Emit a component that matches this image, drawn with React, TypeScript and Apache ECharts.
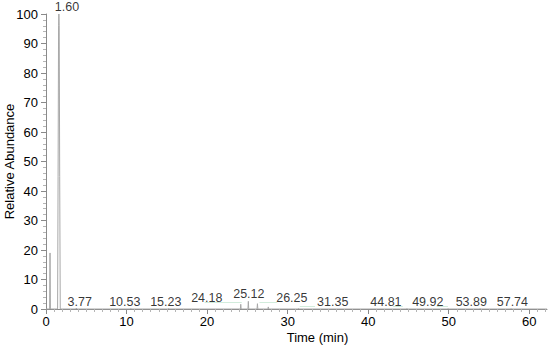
import React, { useEffect, useRef } from "react";
import * as echarts from "echarts";

// Chromatogram trace (time in min, relative abundance %)
const traceTime = [0, 0.45, 0.5, 0.55, 1.44, 1.5, 1.56, 1.6, 1.64, 1.7, 1.77, 3.72, 3.77, 3.82, 10.48, 10.53, 10.58, 15.18, 15.23, 15.28, 24.13, 24.18, 24.23, 25.07, 25.12, 25.17, 26.2, 26.25, 26.3, 27.55, 27.6, 27.65, 31.3, 31.35, 31.4, 44.76, 44.81, 44.86, 49.87, 49.92, 49.97, 53.84, 53.89, 53.94, 57.69, 57.74, 57.79, 62.2];
const traceAbundance = [0, 0, 19, 0, 0, 45, 96, 100, 96, 45, 0, 0, 0.3, 0, 0, 0.2, 0, 0, 0.2, 0, 0, 1.6, 0, 0, 2.6, 0, 0, 1.8, 0, 0, 0.7, 0, 0, 0.2, 0, 0, 0.2, 0, 0, 0.2, 0, 0, 0.2, 0, 0, 0.2, 0, 0];

// Peak annotations: text, where the label sits (min), and its height (%)
const peakLabels = ["1.60", "3.77", "10.53", "15.23", "24.18", "25.12", "26.25", "31.35", "44.81", "49.92", "53.89", "57.74"];
const labelTime = [2.6, 4.19, 9.78, 14.87, 19.96, 25.18, 30.52, 35.6, 42.2, 47.4, 52.8, 57.9];
const labelHeight = [100, 0, 0, 0, 1.1, 2.4, 1.1, 0, 0, 0, 0, 0];

// Faint baseline connector segments [t1, t2, abundance]
const baselineSegments = [
  [19.7, 24.3, 2.2],
  [26.5, 28.7, 2.4],
  [31.5, 33.4, 1.1],
  [43.1, 44.3, 0.8],
  [48.5, 49.9, 0.8],
];

const xTicks = [0, 10, 20, 30, 40, 50, 60];

export default function App() {
  const ref = useRef<HTMLDivElement>(null);
  useEffect(() => {
    if (!ref.current) return;
    const chart = echarts.init(ref.current, null, { renderer: "svg" });
    const font = "'Liberation Sans', Arial, sans-serif";
    chart.setOption({
      animation: false,
      grid: { left: 46, right: 3, top: 14, bottom: 37, containLabel: false, outerBoundsMode: "none" },
      xAxis: {
        type: "value",
        min: 0,
        max: 62.2,
        interval: 10,
        name: "Time (min)",
        nameLocation: "middle",
        nameGap: 22,
        nameMoveOverlap: false,
        nameTextStyle: { color: "#000", fontSize: 13, fontFamily: font, padding: [0, 0, 0, 42] },
        axisLine: { show: true, lineStyle: { color: "#8a8a8a", width: 1 } },
        axisTick: { show: true, length: 5, lineStyle: { color: "#8a8a8a" }, customValues: xTicks },
        minorTick: { show: true, splitNumber: 10, length: 3, lineStyle: { color: "#b5b5b5" } },
        axisLabel: { color: "#000", fontSize: 13, fontFamily: font, margin: 6, customValues: xTicks },
        splitLine: { show: false },
        minorSplitLine: { show: false },
      },
      yAxis: {
        type: "value",
        min: 0,
        max: 100,
        interval: 10,
        name: "Relative Abundance",
        nameLocation: "middle",
        nameGap: 30,
        nameMoveOverlap: false,
        nameTextStyle: { color: "#000", fontSize: 13, fontFamily: font },
        axisLine: { show: true, lineStyle: { color: "#8a8a8a", width: 1 } },
        axisTick: { show: true, length: 5, lineStyle: { color: "#8a8a8a" } },
        minorTick: { show: true, splitNumber: 5, length: 3, lineStyle: { color: "#b5b5b5" } },
        axisLabel: { color: "#000", fontSize: 13, fontFamily: font, margin: 8 },
        splitLine: { show: false },
        minorSplitLine: { show: false },
      },
      series: [
        {
          type: "line",
          data: traceTime.map((t, i) => [t, traceAbundance[i]]),
          symbol: "none",
          lineStyle: { color: "#a8a8a8", width: 1 },
          z: 3,
        },
        {
          type: "lines",
          coordinateSystem: "cartesian2d",
          data: baselineSegments.map((s) => ({ coords: [[s[0], s[2]], [s[1], s[2]]] })),
          lineStyle: { color: "#d2ecdc", width: 1, opacity: 1 },
          z: 2,
        },
        {
          type: "scatter",
          data: labelTime.map((t, i) => [t, labelHeight[i]]),
          symbolSize: 0,
          label: {
            show: true,
            position: "top",
            distance: 1,
            color: "#000",
            fontSize: 12.5,
            fontFamily: font,
            formatter: (p: any) => peakLabels[p.dataIndex],
          },
          z: 4,
        },
      ],
    });
    return () => chart.dispose();
  }, []);
  return <div ref={ref} style={{ width: 550, height: 346, position: "absolute", left: 0, top: 0 }} />;
}
